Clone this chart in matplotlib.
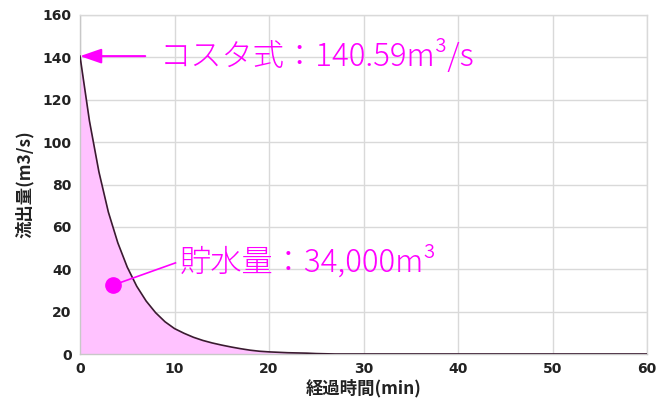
import matplotlib
matplotlib.use("Agg")
import matplotlib.pyplot as plt

# Data (minutes, m3/s)
time_min = list(range(0, 61))
flow = [140.59, 110, 86, 67, 52.5, 41, 32, 25, 19.5, 15.2, 12, 9.8, 7.9, 6.4, 5.2,
        4.2, 3.3, 2.5, 1.8, 1.3, 1.0, 0.8, 0.6, 0.5, 0.4, 0.2, 0.1] + [0.0] * 34

peak_label = "コスタ式：140.59m³/s"
volume_label = "貯水量：34,000m³"
peak_time, peak_flow = 0, 140.59
dot_time, dot_flow = 3.5, 32.5
x_ticks = [0, 10, 20, 30, 40, 50, 60]
y_ticks = [0, 20, 40, 60, 80, 100, 120, 140, 160]
x_label = "経過時間(min)"
y_label = "流出量(m3/s)"

plt.rcParams['font.family'] = ['Noto Sans CJK JP', 'DejaVu Sans']

fig = plt.figure(figsize=(6.59, 4.01), dpi=100)
ax = fig.add_axes([0.1214, 0.1172, 0.8604, 0.8454])

mag = "#FF00FF"
ax.fill_between(time_min, flow, 0, color="#FFC2FF", lw=0, zorder=1)
ax.plot(time_min, flow, color="#3a1a30", lw=1.2, zorder=3)

ax.set_xlim(0, 60)
ax.set_ylim(0, 160)
ax.set_xticks(x_ticks)
ax.set_yticks(y_ticks)
ax.grid(True, color="#d9d9d9", lw=1.0, zorder=0)
ax.set_axisbelow(True)
for s in ax.spines.values():
    s.set_color("#d9d9d9")
    s.set_linewidth(1.0)
ax.spines['left'].set_color("#c8c8c8")
ax.spines['bottom'].set_color("#c8c8c8")
ax.tick_params(length=0, pad=6, colors="#222222")
for lab in ax.get_xticklabels() + ax.get_yticklabels():
    lab.set_family("DejaVu Sans")
    lab.set_fontweight("bold")
    lab.set_fontsize(10)

ax.set_xlabel(x_label, fontsize=12.5, fontweight="bold", color="#222222", labelpad=2)
ax.set_ylabel(y_label, fontsize=12.5, fontweight="bold", color="#222222", labelpad=6)

# Peak annotation
ax.annotate("", xy=(peak_time, peak_flow), xytext=(6.9, peak_flow),
            arrowprops=dict(arrowstyle="-|>,head_length=1.3,head_width=0.45",
                            color=mag, lw=1.5, shrinkA=0, shrinkB=0), zorder=5)
ax.text(8.4, peak_flow, peak_label, color=mag, fontsize=22.5, va="center", ha="left",
        fontweight="light", zorder=5)

# Volume annotation
ax.plot([dot_time, 10.1], [dot_flow, 43], color=mag, lw=1.2, zorder=4)
ax.plot([dot_time], [dot_flow], "o", color=mag, ms=11, zorder=5)
ax.text(10.6, 43.5, volume_label, color=mag, fontsize=22.5, va="center", ha="left",
        fontweight="light", zorder=5)

fig.savefig("out.png", dpi=100)
